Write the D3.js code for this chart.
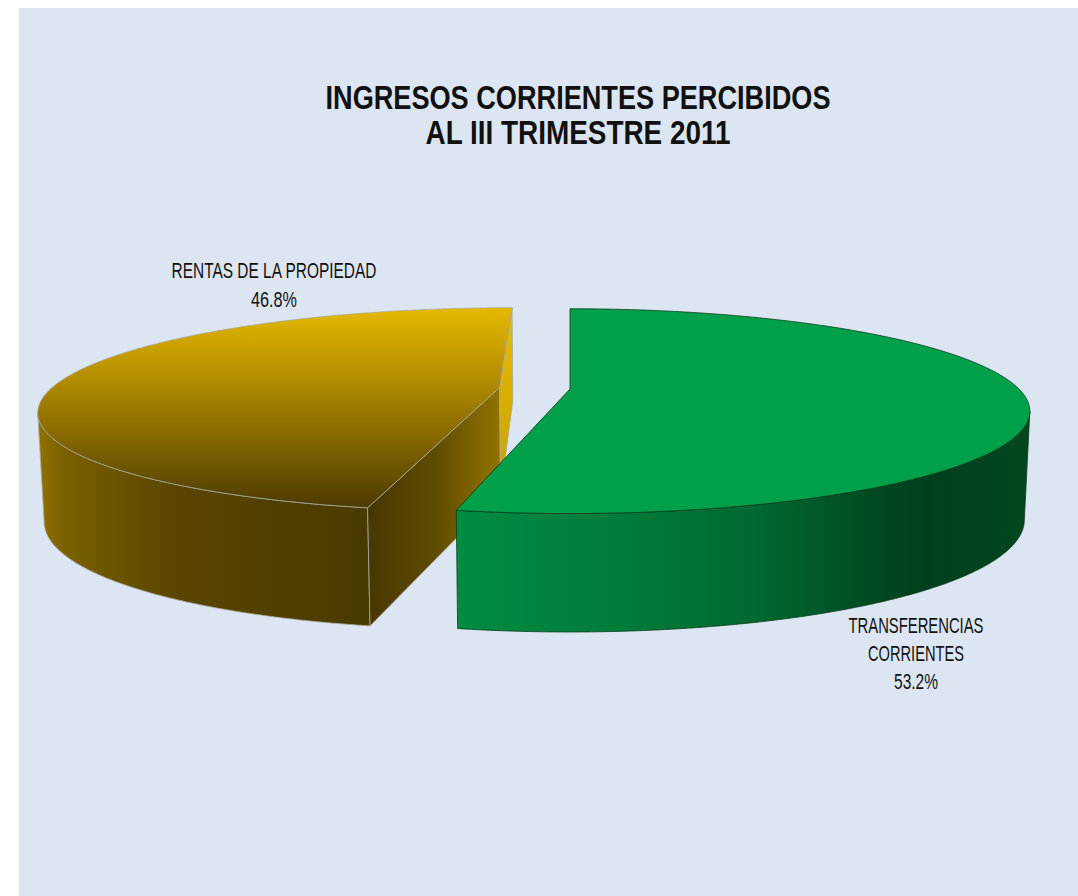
<!DOCTYPE html>
<html>
<head>
<meta charset="utf-8">
<script src="https://cdn.jsdelivr.net/npm/d3@7"></script>
<style>
  body { margin: 0; background: #ffffff; }
  text { font-family: "Liberation Sans Narrow", "Arial Narrow", "Liberation Sans", sans-serif; fill: #111; }
</style>
</head>
<body>
<div id="chart"></div>
<script>
// ---- data ----
const categories = ["TRANSFERENCIAS CORRIENTES", "RENTAS DE LA PROPIEDAD"];
const shares = [53.2, 46.8];
const labelLines = [["TRANSFERENCIAS", "CORRIENTES"], ["RENTAS DE LA PROPIEDAD"]];
const titleLines = ["INGRESOS CORRIENTES PERCIBIDOS", "AL III TRIMESTRE 2011"];
const explode = [0, 0.158];

// ---- styles ----
const sliceStyle = [
  {
    top: [[0, "#00a04b"], [1, "#00a04b"]],
    wall: [[0, "#008c41"], [0.3, "#007b39"], [0.55, "#006530"], [0.72, "#004a22"], [0.82, "#003f1d"], [1, "#00471f"]],
    cut: [[0, "#00883f"], [1, "#00883f"]],
    stroke: "#0c3a1a"
  },
  {
    top: [[0, "#e6b900"], [0.45, "#a48100"], [1, "#4d3b00"]],
    wall: [[0, "#917200"], [0.08, "#7a6000"], [0.4, "#5a4600"], [1, "#4a3900"]],
    cut: [[0, "#463700"], [0.5, "#5f4b00"], [1, "#927300"]],
    end: [[0, "#e8bb00"], [1, "#c9a100"]],
    stroke: "#a9aaa2"
  }
];
const labelPos = [{ x: 916, y: 633, len: [135, 96, 44] }, { x: 274, y: 278, len: [205, 46] }];
const labelStep = [28, 29];

const W = 1078, H = 896;
const cfg = { vx: 570, cy: 389, ra: 449, rb: 97.6, k: 0.216, t0: 106, t1: 12.5, conv: 0.988 };

const svg = d3.select("#chart").append("svg").attr("width", W).attr("height", H);
const defs = svg.append("defs");
svg.append("rect").attr("width", W).attr("height", H).attr("fill", "#ffffff");
svg.append("rect").attr("x", 19).attr("y", 8).attr("width", W - 19).attr("height", H - 8).attr("fill", "#dce6f2");

// title
titleLines.forEach((t, i) => {
  svg.append("text")
    .attr("x", 578).attr("y", 109 + i * 35)
    .attr("text-anchor", "middle")
    .attr("font-size", 33).attr("font-weight", "bold")
    .attr("textLength", i === 0 ? 505 : 305)
    .attr("lengthAdjust", "spacingAndGlyphs")
    .text(t);
});

// ---- projection ----
function proj(p) {
  const w = 1 / (1 - cfg.k * p.z);
  return [cfg.vx + cfg.ra * p.x * w, cfg.cy + cfg.rb * p.z * w];
}
function projBottom(p) {
  const [sx, sy] = proj(p);
  return [cfg.vx + (sx - cfg.vx) * cfg.conv, sy + cfg.t0 + cfg.t1 * p.z];
}
const rim = (o, a) => ({ x: o.x + Math.sin(a), z: o.z - Math.cos(a) });
const cam = { x: 0, z: 1 / cfg.k };
const line = d3.line();

let gid = 0;
function gradient(stops, pts, vertical) {
  const xs = pts.map(p => p[0]), ys = pts.map(p => p[1]);
  const id = "g" + (gid++);
  const g = defs.append("linearGradient").attr("id", id)
    .attr("gradientUnits", "userSpaceOnUse")
    .attr("x1", vertical ? 0 : d3.min(xs)).attr("x2", vertical ? 0 : d3.max(xs))
    .attr("y1", vertical ? d3.min(ys) : 0).attr("y2", vertical ? d3.max(ys) : 0);
  stops.forEach(s => g.append("stop").attr("offset", s[0]).attr("stop-color", s[1]));
  return `url(#${id})`;
}

const arcs = d3.pie().sort(null).startAngle(0).endAngle(2 * Math.PI)(shares);
const order = [1, 0]; // back/left slice first

order.forEach(i => {
  const a = arcs[i];
  const st = sliceStyle[i];
  const mid = (a.startAngle + a.endAngle) / 2;
  const o = { x: explode[i] * Math.sin(mid), z: -explode[i] * Math.cos(mid) };
  const n = Math.ceil((a.endAngle - a.startAngle) / 0.005);
  const angles = d3.range(n + 1).map(j => a.startAngle + (a.endAngle - a.startAngle) * j / n);
  const g = svg.append("g").attr("class", "slice");

  // outer wall (front-facing part)
  const vis = angles.filter(t => {
    const p = rim(o, t);
    return (cam.x - p.x) * Math.sin(t) + (cam.z - p.z) * (-Math.cos(t)) > 0;
  });
  if (vis.length > 1) {
    const pts = vis.map(t => proj(rim(o, t))).concat(vis.slice().reverse().map(t => projBottom(rim(o, t))));
    g.append("path").attr("d", line(pts) + "Z")
      .attr("fill", gradient(st.wall, pts, false))
      .attr("stroke", st.stroke).attr("stroke-width", 0.8).attr("stroke-linejoin", "round");
  }

  // radial faces
  [[a.startAngle, -1], [a.endAngle, 1]].forEach(([t, s]) => {
    const nx = s * Math.cos(t), nz = s * Math.sin(t);
    if ((cam.x - o.x) * nx + (cam.z - o.z) * nz <= 1e-6) return;
    const r = rim(o, t);
    const pts = [proj(o), proj(r), projBottom(r), projBottom(o)];
    const stops = s < 0 ? st.cut : (st.end || st.cut);
    g.append("path").attr("d", line(pts) + "Z")
      .attr("fill", gradient(stops, pts, s > 0))
      .attr("stroke", st.stroke).attr("stroke-width", 0.8).attr("stroke-linejoin", "round");
  });

  // top face
  const topPts = [proj(o)].concat(angles.map(t => proj(rim(o, t))));
  g.append("path").attr("d", line(topPts) + "Z")
    .attr("fill", gradient(st.top, topPts, true))
    .attr("stroke", st.stroke).attr("stroke-width", 0.8).attr("stroke-linejoin", "round");
});

// labels
const fmt = v => d3.format(".1f")(v) + "%";
arcs.forEach((a, i) => {
  const lines = labelLines[i].concat([fmt(shares[i])]);
  const lp = labelPos[i];
  lines.forEach((t, j) => {
    svg.append("text")
      .attr("x", lp.x).attr("y", lp.y + j * labelStep[i])
      .attr("text-anchor", "middle")
      .attr("font-size", 22)
      .attr("textLength", lp.len[j])
      .attr("lengthAdjust", "spacingAndGlyphs")
      .text(t);
  });
});
</script>
</body>
</html>
